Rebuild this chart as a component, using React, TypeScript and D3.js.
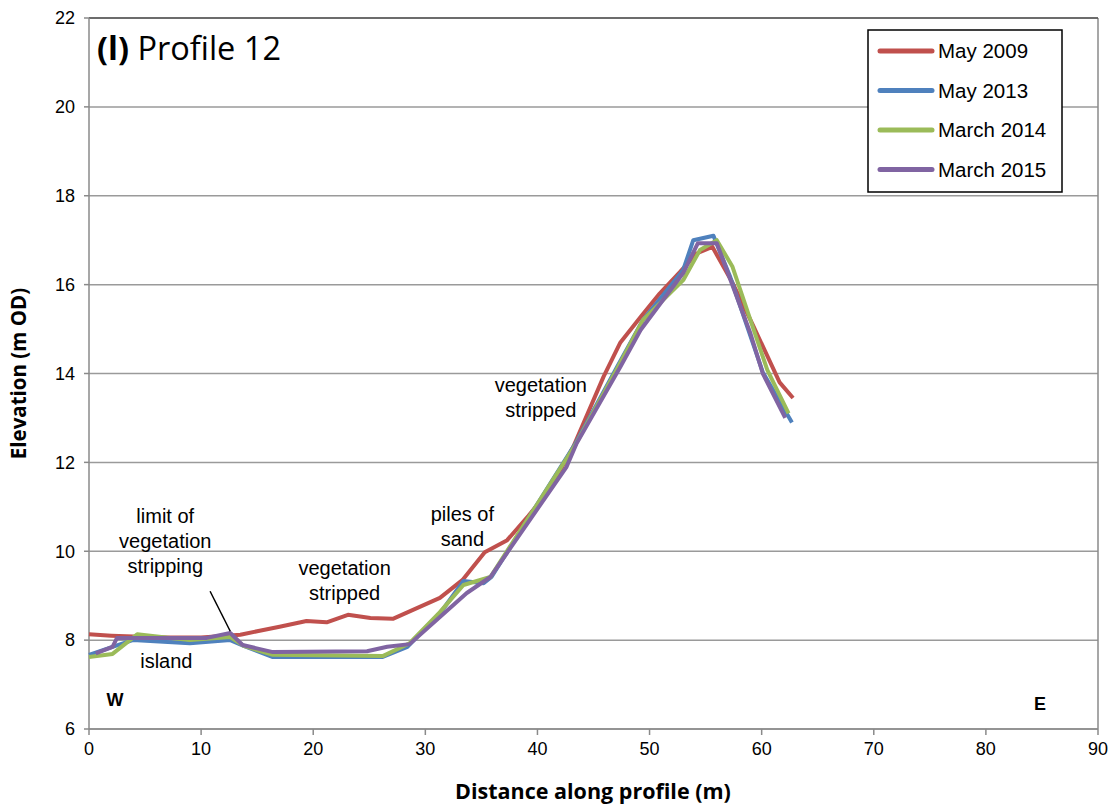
import React from 'react';
import * as d3 from 'd3';

// distance (m) / elevation (m OD)
const may2009X = [0, 2, 4, 7, 10, 13.5, 15, 17, 19.4, 21.2, 23.1, 25.1, 27.1, 28.9, 31.3, 33.3, 35.3, 37.3, 39.2, 41, 43.2, 45.9, 47.4, 49.2, 50.9, 52.7, 54.2, 55.6, 57.4, 59.2, 61.6, 62.8];
const may2009Y = [8.13, 8.1, 8.08, 8.06, 8.06, 8.12, 8.2, 8.3, 8.43, 8.4, 8.57, 8.5, 8.48, 8.68, 8.95, 9.35, 9.98, 10.25, 10.8, 11.35, 12.35, 13.93, 14.7, 15.27, 15.8, 16.28, 16.7, 16.85, 16.04, 15.1, 13.8, 13.45];

const may2013X = [0, 2.1, 3.9, 9, 12.6, 13.8, 16.4, 26.2, 28.4, 31.3, 33.4, 35.2, 35.9, 43.4, 47.1, 49.4, 53, 53.9, 55.7, 57.2, 60.1, 62.7];
const may2013Y = [7.67, 7.85, 8.0, 7.93, 8.0, 7.87, 7.62, 7.62, 7.85, 8.6, 9.33, 9.28, 9.42, 12.43, 14.15, 15.2, 16.33, 17.0, 17.1, 16.17, 14.03, 12.9];

const mar2014X = [0, 2.1, 4.3, 9, 12.6, 13.8, 16.4, 26.2, 28.6, 31.3, 33.4, 35.8, 43.4, 47.2, 49.4, 53, 54.5, 56, 57.4, 60.5, 62.4];
const mar2014Y = [7.62, 7.69, 8.13, 8.0, 8.07, 7.87, 7.67, 7.64, 7.93, 8.63, 9.24, 9.42, 12.4, 14.15, 15.2, 16.1, 16.78, 17.0, 16.4, 14.08, 13.1];

const mar2015X = [0.6, 2.1, 2.5, 10.5, 12.6, 13.7, 16.4, 24.8, 26.6, 28.6, 31.3, 33.7, 35.8, 42.6, 43.5, 47.4, 49.2, 53, 54.3, 56, 59, 60.1, 62.1];
const mar2015Y = [7.7, 7.85, 8.05, 8.05, 8.16, 7.89, 7.73, 7.75, 7.85, 7.91, 8.52, 9.06, 9.42, 11.9, 12.43, 14.15, 14.98, 16.26, 16.93, 16.93, 14.9, 14.0, 13.0];

const seriesNames = ['May 2009', 'May 2013', 'March 2014', 'March 2015'];
const seriesColors = ['#C0504D', '#4F81BD', '#9BBB59', '#8064A2'];
const seriesX = [may2009X, may2013X, mar2014X, mar2015X];
const seriesY = [may2009Y, may2013Y, mar2014Y, mar2015Y];

const xTicks = [0, 10, 20, 30, 40, 50, 60, 70, 80, 90];
const yTicks = [6, 8, 10, 12, 14, 16, 18, 20, 22];

// text notes: [distance, elevation, lines]
const notes: [number, number, string[]][] = [
  [6.8, 10.63, ['limit of', 'vegetation', 'stripping']],
  [6.9, 7.37, ['island']],
  [22.8, 9.46, ['vegetation', 'stripped']],
  [33.3, 10.68, ['piles of', 'sand']],
  [40.3, 13.58, ['vegetation', 'stripped']],
];

const W = 1116;
const H = 806;
const left = 89;
const right = 1098;
const top = 18;
const bottom = 729;

const App: React.FC = () => {
  const x = d3.scaleLinear().domain([0, 90]).range([left, right]);
  const y = d3.scaleLinear().domain([6, 22]).range([bottom, top]);
  const line = d3.line<[number, number]>().x(d => x(d[0])).y(d => y(d[1]));
  const font = 'Liberation Sans, Arial, sans-serif';
  const titleFont = '"Open Sans", "Noto Sans", sans-serif';

  return (
    <svg width={W} height={H} style={{ position: 'absolute', left: 0, top: 0 }}>
      <rect x={0} y={0} width={W} height={H} fill="#fff" />
      {yTicks.map(t => (
        <line key={t} x1={left} x2={right} y1={y(t)} y2={y(t)} stroke="#9a9a9a" strokeWidth={1.5} />
      ))}
      <line x1={right} x2={right} y1={top} y2={bottom} stroke="#8a8a8a" strokeWidth={1.5} />
      <line x1={left} x2={right} y1={top} y2={top} stroke="#555" strokeWidth={1.5} />
      <line x1={left} x2={left} y1={top} y2={bottom} stroke="#8a8a8a" strokeWidth={1.5} />
      <line x1={left} x2={right} y1={bottom} y2={bottom} stroke="#8a8a8a" strokeWidth={1.5} />
      {yTicks.map(t => (
        <g key={'y' + t}>
          <line x1={left - 5} x2={left} y1={y(t)} y2={y(t)} stroke="#8a8a8a" strokeWidth={1.5} />
          <text x={left - 14} y={y(t)} dy="0.35em" textAnchor="end" fontFamily={font} fontSize={18}>{t}</text>
        </g>
      ))}
      {xTicks.map(t => (
        <g key={'x' + t}>
          <line x1={x(t)} x2={x(t)} y1={bottom} y2={bottom + 6} stroke="#8a8a8a" strokeWidth={1.5} />
          <text x={x(t)} y={bottom + 26} textAnchor="middle" fontFamily={font} fontSize={18}>{t}</text>
        </g>
      ))}
      <text x={593} y={799} textAnchor="middle" fontFamily={titleFont} fontWeight="bold" fontSize={21.5}>Distance along profile (m)</text>
      <text transform={`translate(26,${(top + bottom) / 2}) rotate(-90)`} textAnchor="middle" fontFamily={titleFont} fontWeight="bold" fontSize={20.5}>Elevation (m OD)</text>

      {seriesNames.map((n, i) => (
        <path
          key={n}
          d={line(seriesX[i].map((v, j) => [v, seriesY[i][j]] as [number, number])) || ''}
          fill="none"
          stroke={seriesColors[i]}
          strokeWidth={4}
          strokeLinejoin="round"
        />
      ))}

      <line x1={x(10.8)} x2={x(12.6)} y1={y(9.1)} y2={y(8.2)} stroke="#000" strokeWidth={1.5} />
      {notes.map(([d, e, lines], i) => (
        <text key={i} x={x(d)} y={y(e)} textAnchor="middle" fontFamily={font} fontSize={20}>
          {lines.map((l, j) => (
            <tspan key={j} x={x(d)} dy={j === 0 ? 0 : 25}>{l}</tspan>
          ))}
        </text>
      ))}
      <text x={115} y={706} textAnchor="middle" fontFamily={font} fontWeight="bold" fontSize={18}>W</text>
      <text x={1040} y={710} textAnchor="middle" fontFamily={font} fontWeight="bold" fontSize={18}>E</text>

      <text x={97} y={60} fontFamily={titleFont} fontSize={32.5}>
        <tspan fontWeight="bold">(l)</tspan> Profile 12
      </text>

      <rect x={868} y={30} width={194} height={162} fill="#fff" stroke="#000" strokeWidth={1.5} />
      {seriesNames.map((n, i) => (
        <g key={'l' + n} transform={`translate(0,${51 + i * 39.5})`}>
          <line x1={880} x2={932} y1={0} y2={0} stroke={seriesColors[i]} strokeWidth={5} strokeLinecap="round" />
          <text x={938} y={0} dy="0.35em" fontFamily={font} fontSize={20.5}>{n}</text>
        </g>
      ))}
    </svg>
  );
};

export default App;
